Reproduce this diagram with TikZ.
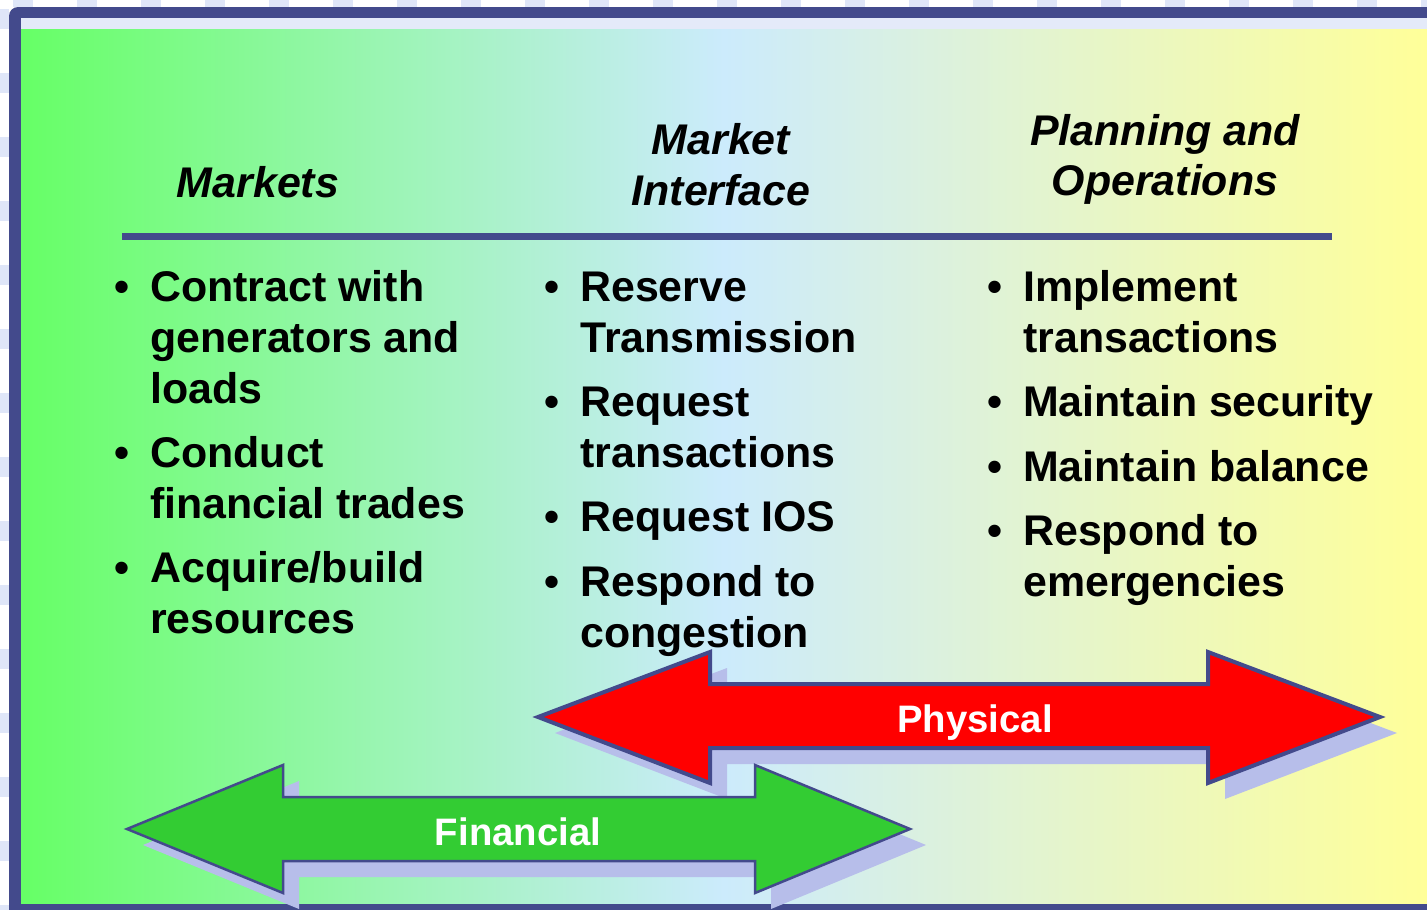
\documentclass[tikz,border=0pt]{standalone}
\usepackage{fontspec}
\setmainfont{Liberation Sans}
\definecolor{framec}{HTML}{434A8C}
\definecolor{bgL}{HTML}{66FF66}
\definecolor{bgM}{HTML}{CCEBFC}
\definecolor{bgR}{HTML}{FFFF99}
\definecolor{shad}{HTML}{B7BEEA}
\definecolor{patc}{HTML}{DFE6F8}
\definecolor{stripc}{HTML}{E4EAF9}
\definecolor{grn}{HTML}{33CC33}
\definecolor{rd}{HTML}{FF0000}
\tikzset{
  txt/.style={font=\fontsize{42.9}{51}\selectfont\bfseries, inner sep=0pt, anchor=base west},
  bul/.style={font=\fontsize{42.9}{51}\selectfont\bfseries, inner sep=0pt, anchor=base},
  hd/.style={font=\fontsize{42.9}{51}\selectfont\bfseries\itshape, inner sep=0pt, anchor=base},
  lbl/.style={font=\fontsize{38.3}{44}\selectfont\bfseries, text=white, inner sep=0pt, anchor=base},
}
\begin{document}
\begin{tikzpicture}[x=1pt,y=-1pt]
\useasboundingbox (0,0) rectangle (1427,910);
\fill[white] (0,0) rectangle (1427,910);
% pattern patches outside the frame
\foreach \k in {0,...,22} {
  \fill[patc] ({13+64*\k},0) rectangle ({33+64*\k},7);
}
\foreach \k in {0,...,14} {
  \fill[patc] (0,{9+64*\k}) rectangle (9,{29+64*\k});
}
% frame
\fill[framec] (9,910) [rounded corners=9pt] -- (9,7) [sharp corners] -- (1427,7) -- (1427,910) -- cycle;
\fill[stripc] (21,18) rectangle (1427,29);
% gradient background
\shade[left color=bgL, right color=bgR, middle color=bgM] (21,29) rectangle (1427,903);

% headings
\node[hd] (h1) at (258,197) {Markets};
\node[hd] (h2a) at (721,154) {Market};
\node[hd] (h2b) at (721,205) {Interface};
\node[hd] (h3a) at (1165,145) {Planning and};
\node[hd] (h3b) at (1165,195) {Operations};
\draw[framec, line width=7pt] (122,236.5) -- (1332,236.5);

% column 1
\node[bul] (b11) at (122,301) {\textbullet};
\node[txt] (t11a) at (150,301) {Contract with};
\node[txt] (t11b) at (150,352) {generators and};
\node[txt] (t11c) at (150,403) {loads};
\node[bul] (b12) at (122,467) {\textbullet};
\node[txt] (t12a) at (150,467) {Conduct};
\node[txt] (t12b) at (150,518) {financial trades};
\node[bul] (b13) at (122,582) {\textbullet};
\node[txt] (t13a) at (150,582) {Acquire/build};
\node[txt] (t13b) at (150,633) {resources};

% column 2
\node[bul] (b21) at (552,301) {\textbullet};
\node[txt] (t21a) at (580,301) {Reserve};
\node[txt] (t21b) at (580,352) {Transmission};
\node[bul] (b22) at (552,416) {\textbullet};
\node[txt] (t22a) at (580,416) {Request};
\node[txt] (t22b) at (580,467) {transactions};
\node[bul] (b23) at (552,531) {\textbullet};
\node[txt] (t23a) at (580,531) {Request IOS};
\node[bul] (b24) at (552,596) {\textbullet};
\node[txt] (t24a) at (580,596) {Respond to};
\node[txt] (t24b) at (580,647) {congestion};

% column 3
\node[bul] (b31) at (995,301) {\textbullet};
\node[txt] (t31a) at (1023,301) {Implement};
\node[txt] (t31b) at (1023,352) {transactions};
\node[bul] (b32) at (995,416) {\textbullet};
\node[txt] (t32a) at (1023,416) {Maintain security};
\node[bul] (b33) at (995,481) {\textbullet};
\node[txt] (t33a) at (1023,481) {Maintain balance};
\node[bul] (b34) at (995,545) {\textbullet};
\node[txt] (t34a) at (1023,545) {Respond to};
\node[txt] (t34b) at (1023,596) {emergencies};

% red (Physical) arrow
\begin{scope}[shift={(17,16)}]
\fill[shad] (538,717) -- (710,652) -- (710,684) -- (1208,684) -- (1208,652) -- (1380,717) -- (1208,783) -- (1208,748) -- (710,748) -- (710,783) -- cycle;
\end{scope}
\draw[fill=rd, draw=framec, line width=4pt, line join=miter] (538,717) -- (710,652) -- (710,684) -- (1208,684) -- (1208,652) -- (1380,717) -- (1208,783) -- (1208,748) -- (710,748) -- (710,783) -- cycle;
\node[lbl] (phys) at (975,732) {Physical};

% green (Financial) arrow
\begin{scope}[shift={(16,16)}]
\fill[shad] (127,829) -- (283,765) -- (283,797) -- (755,797) -- (755,765) -- (910,829) -- (755,893) -- (755,861) -- (283,861) -- (283,893) -- cycle;
\end{scope}
\draw[fill=grn, draw=framec, line width=2.5pt, line join=miter] (127,829) -- (283,765) -- (283,797) -- (755,797) -- (755,765) -- (910,829) -- (755,893) -- (755,861) -- (283,861) -- (283,893) -- cycle;
\node[lbl] (fin) at (518,845) {Financial};
\end{tikzpicture}
\end{document}
